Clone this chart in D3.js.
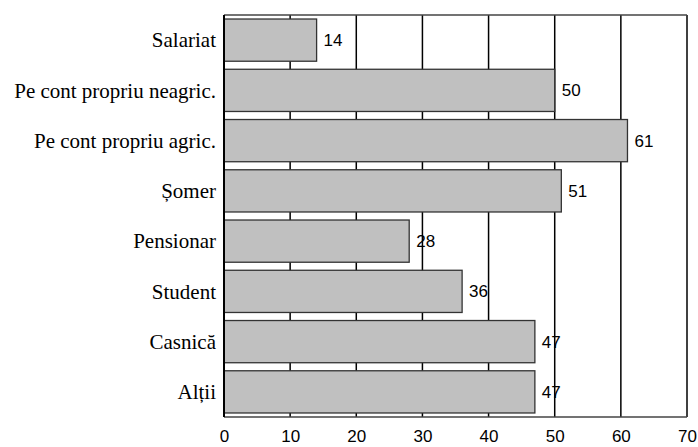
<!DOCTYPE html>
<html><head><meta charset="utf-8">
<script src="https://cdn.jsdelivr.net/npm/d3@7"></script>
<style>body{margin:0;background:#fff}svg{display:block}</style>
</head><body>
<svg id="c" width="698" height="447"></svg>
<script>
const categories = ["Salariat","Pe cont propriu neagric.","Pe cont propriu agric.","Șomer","Pensionar","Student","Casnică","Alții"];
const values = [14,50,61,51,28,36,47,47];
const ticks = [0,10,20,30,40,50,60,70];

const svg = d3.select("#c");
const m = {l:224, r:687, t:15, b:417};
const x = d3.scaleLinear().domain([0,70]).range([m.l, m.r]);
const y = d3.scaleBand().domain(categories).range([m.t, m.b]).paddingInner(0.16).paddingOuter(0.08);

// gridlines
svg.append("g").selectAll("line").data(ticks.slice(1)).join("line")
  .attr("x1", d=>x(d)).attr("x2", d=>x(d))
  .attr("y1", m.t).attr("y2", m.b)
  .attr("stroke", "#000").attr("stroke-width", 1.5);

// frame top & bottom
svg.append("line").attr("x1", m.l).attr("x2", m.r).attr("y1", m.t).attr("y2", m.t)
  .attr("stroke", "#444").attr("stroke-width", 1.5);
svg.append("line").attr("x1", m.l).attr("x2", m.r).attr("y1", m.b).attr("y2", m.b)
  .attr("stroke", "#444").attr("stroke-width", 1.5);

// bars
svg.append("g").selectAll("rect").data(values).join("rect")
  .attr("x", x(0)).attr("y", (d,i)=>y(categories[i]))
  .attr("width", d=>x(d)-x(0)).attr("height", y.bandwidth())
  .attr("fill", "#c0c0c0").attr("stroke", "#333").attr("stroke-width", 1.3);

// left axis line
svg.append("line").attr("x1", m.l).attr("x2", m.l).attr("y1", m.t).attr("y2", m.b)
  .attr("stroke", "#000").attr("stroke-width", 2);

// value labels
svg.append("g").selectAll("text").data(values).join("text")
  .attr("x", d=>x(d)+7).attr("y", (d,i)=>y(categories[i])+y.bandwidth()/2)
  .attr("dy", "0.35em")
  .attr("font-family", "Liberation Sans, Arial, sans-serif").attr("font-size", 17)
  .attr("fill", "#000")
  .text(d=>d);

// category labels
svg.append("g").selectAll("text").data(categories).join("text")
  .attr("x", m.l - 8).attr("y", d=>y(d)+y.bandwidth()/2)
  .attr("dy", "0.35em").attr("text-anchor", "end")
  .attr("font-family", "Liberation Serif, Times New Roman, serif").attr("font-size", 21)
  .attr("fill", "#000")
  .text(d=>d);

// x tick labels
const xAxis = d3.axisBottom(x).tickValues(ticks).tickSize(0).tickPadding(0);
const gx = svg.append("g").attr("transform", `translate(0,${m.b})`).call(xAxis);
gx.select(".domain").remove();
gx.selectAll("text").attr("y", 13).attr("dy", "0.71em")
  .attr("font-family", "Liberation Sans, Arial, sans-serif").attr("font-size", 17).attr("fill", "#000");
</script>
</body></html>
